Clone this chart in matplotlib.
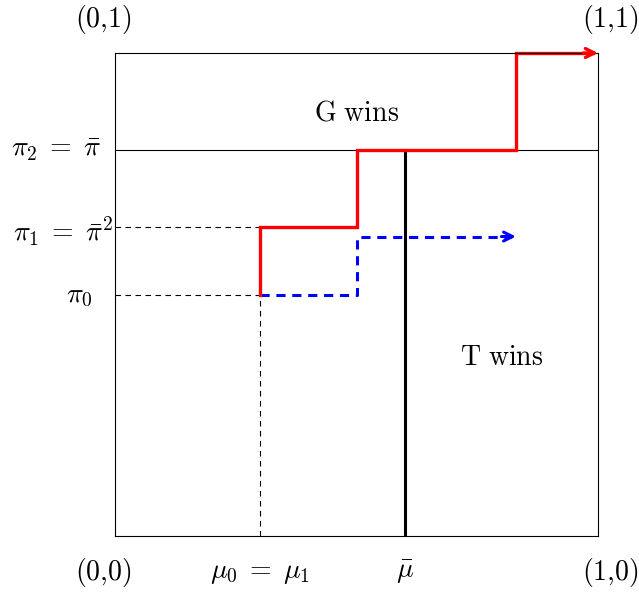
import matplotlib
matplotlib.use("Agg")
import matplotlib.pyplot as plt

plt.rcParams['mathtext.fontset'] = 'cm'
plt.rcParams['font.family'] = 'serif'

# key levels of the diagram
pi2 = 0.8           # pi_2 = pi bar
pi1 = pi2 ** 2      # pi_1 = pi bar squared
pi0 = 0.5
mu0 = 0.3
mu_bar = 0.6

# red (G) path and blue (T) path
red_x = [0.3, 0.3, 0.5, 0.5, 0.83, 0.83, 1.0]
red_y = [0.5, 0.64, 0.64, 0.8, 0.8, 1.0, 1.0]
blue_x = [0.3, 0.5, 0.5, 0.83]
blue_y = [0.5, 0.5, 0.62, 0.62]

fig = plt.figure(figsize=(6.39, 5.95), dpi=100)
ax = fig.add_axes([115 / 639, 59 / 595, 483 / 639, 483 / 595])
ax.set_xlim(0, 1)
ax.set_ylim(0, 1)
ax.set_xticks([])
ax.set_yticks([])
for s in ax.spines.values():
    s.set_linewidth(0.8)
ax.patch.set_alpha(0)

fs = 20

# dashed guides
ax.plot([0, mu0], [pi1, pi1], color='black', lw=0.8, ls=(0, (5, 4)))
ax.plot([0, mu0], [pi0, pi0], color='black', lw=0.8, ls=(0, (5, 4)))
ax.plot([mu0, mu0], [0, pi0], color='black', lw=0.8, ls=(0, (5, 4)))

# boundary
ax.plot([0, 1], [pi2, pi2], color='black', lw=0.8)
ax.plot([mu_bar, mu_bar], [0, pi2], color='black', lw=2.2)

# blue path
ax.plot(blue_x[:-1] + [blue_x[-1] - 0.01], blue_y, color='blue', lw=2.2,
        ls=(0, (3, 2.2)), clip_on=False)
ax.annotate('', xy=(blue_x[-1], blue_y[-1]), xytext=(blue_x[-1] - 0.03, blue_y[-1]),
            arrowprops=dict(arrowstyle='->', color='blue', lw=2.2,
                            shrinkA=0, shrinkB=0, mutation_scale=16))

# red path
ax.plot(red_x[:-1] + [red_x[-1] - 0.01], red_y, color='red', lw=2.4,
        solid_joinstyle='miter', clip_on=False)
ax.annotate('', xy=(red_x[-1], red_y[-1]), xytext=(red_x[-1] - 0.03, red_y[-1]),
            arrowprops=dict(arrowstyle='->', color='red', lw=2.4,
                            shrinkA=0, shrinkB=0, mutation_scale=16),
            annotation_clip=False)

# region labels
ax.text(0.5, 0.875, r'$\mathrm{G\ wins}$', fontsize=fs, ha='center', va='center')
ax.text(0.8, 0.37, r'$\mathrm{T\ wins}$', fontsize=fs, ha='center', va='center')

# corner labels
ax.text(-0.025, 1.07, r'$\mathrm{(0{,}1)}$', fontsize=fs, ha='center', va='center', transform=ax.transAxes)
ax.text(1.025, 1.07, r'$\mathrm{(1{,}1)}$', fontsize=fs, ha='center', va='center', transform=ax.transAxes)
ax.text(-0.025, -0.075, r'$\mathrm{(0{,}0)}$', fontsize=fs, ha='center', va='center', transform=ax.transAxes)
ax.text(1.025, -0.075, r'$\mathrm{(1{,}0)}$', fontsize=fs, ha='center', va='center', transform=ax.transAxes)

# axis labels
ax.text(mu0, -0.075, r'$\mu_0 \;=\; \mu_1$', fontsize=fs, ha='center', va='center', transform=ax.transAxes)
ax.text(mu_bar, -0.075, r'$\bar{\mu}$', fontsize=fs, ha='center', va='center', transform=ax.transAxes)
ax.text(-0.03, pi2, r'$\pi_2 \;=\; \bar{\pi}$', fontsize=fs, ha='right', va='center')
ax.text(-0.005, pi1 - 0.01, r'$\pi_1 \;=\; \bar{\pi}^2$', fontsize=fs, ha='right', va='center')
ax.text(-0.045, pi0 - 0.002, r'$\pi_0$', fontsize=fs, ha='right', va='center')

fig.savefig('out.png', dpi=100)
